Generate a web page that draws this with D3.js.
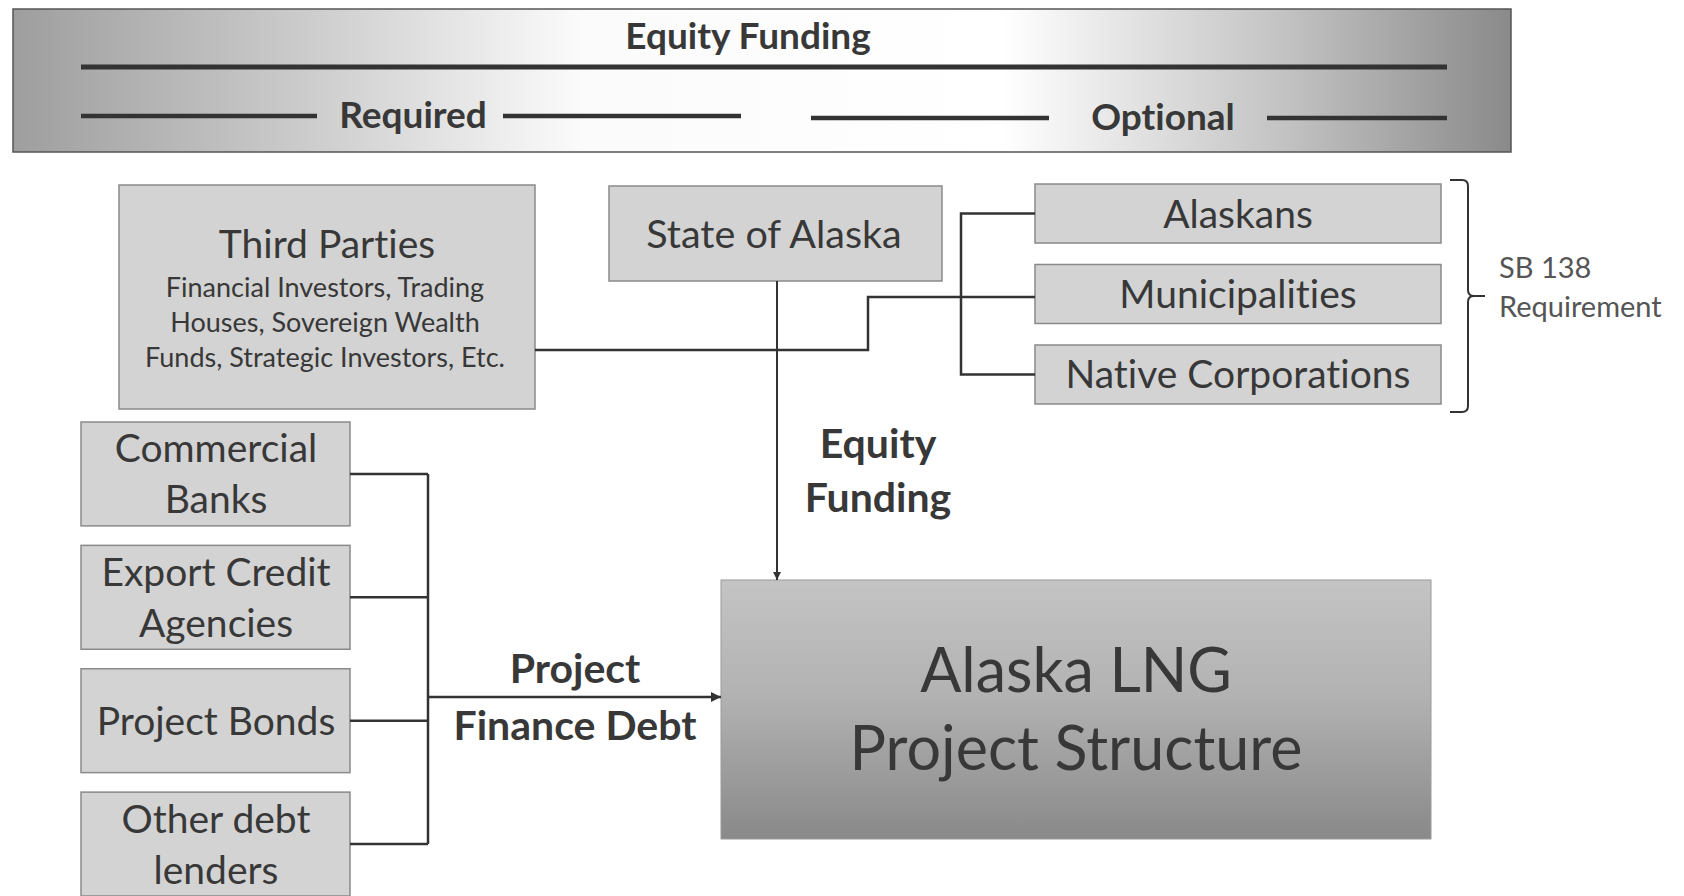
<!DOCTYPE html>
<html>
<head>
<meta charset="utf-8">
<script src="https://cdn.jsdelivr.net/npm/d3@7"></script>
<style>
  body { margin: 0; background: #fff; }
  text { font-family: Lato, "Open Sans", sans-serif; fill: #383838; font-variant-ligatures: none; }
</style>
</head>
<body>
<div id="chart"></div>
<script>
// labels of the diagram
var bannerTitle = "Equity Funding";
var bannerGroups = ["Required", "Optional"];
var thirdPartyTitle = "Third Parties";
var thirdPartyLines = ["Financial Investors, Trading", "Houses, Sovereign Wealth", "Funds, Strategic Investors, Etc."];
var stateName = "State of Alaska";
var optionalInvestors = ["Alaskans", "Municipalities", "Native Corporations"];
var requirementNote = ["SB 138", "Requirement"];
var debtSources = [["Commercial", "Banks"], ["Export Credit", "Agencies"], ["Project Bonds"], ["Other debt", "lenders"]];
var equityLabel = ["Equity", "Funding"];
var debtLabel = ["Project", "Finance Debt"];
var projectTitle = ["Alaska LNG", "Project Structure"];

var width = 1684,
    height = 896;

var svg = d3.select('#chart')
  .append('svg')
  .attr('width', width)
  .attr('height', height);

var defs = svg.append('defs');

var bannerGrad = defs.append('linearGradient').attr('id', 'bannerGrad');
[[0, '#9e9e9e'], [0.2, '#cdcdcd'], [0.38, '#fbfbfb'], [0.66, '#ffffff'], [0.85, '#c2c2c2'], [1, '#8a8a8a']]
  .forEach(function (s) { bannerGrad.append('stop').attr('offset', s[0]).attr('stop-color', s[1]); });

var projGrad = defs.append('linearGradient').attr('id', 'projGrad')
  .attr('x1', 0).attr('y1', 0).attr('x2', 0).attr('y2', 1);
[[0, '#c4c4c4'], [0.45, '#b2b2b2'], [1, '#898989']]
  .forEach(function (s) { projGrad.append('stop').attr('offset', s[0]).attr('stop-color', s[1]); });

defs.append('marker')
  .attr('id', 'arrow')
  .attr('viewBox', '0 0 10 10')
  .attr('refX', 10).attr('refY', 5)
  .attr('markerWidth', 4).attr('markerHeight', 4)
  .attr('markerUnits', 'strokeWidth')
  .attr('orient', 'auto')
  .append('path')
  .attr('d', 'M0,0L10,5L0,10Z')
  .attr('fill', '#333');

// draw centred lines of text, first baseline at y
function addLines(g, lines, x, y, lineHeight, size, weight) {
  g.selectAll(null).data(lines)
    .enter().append('text')
    .attr('x', x)
    .attr('y', function (d, i) { return y + i * lineHeight; })
    .attr('text-anchor', 'middle')
    .attr('font-size', size)
    .attr('font-weight', weight || 400)
    .text(function (d) { return d; });
}

// ---- top banner
svg.append('rect')
  .attr('x', 13).attr('y', 9).attr('width', 1498).attr('height', 143)
  .attr('fill', 'url(#bannerGrad)')
  .attr('stroke', '#555').attr('stroke-width', 1.5);

addLines(svg, [bannerTitle], 748, 49, 0, 37, 700);

svg.append('line')
  .attr('x1', 81).attr('x2', 1447).attr('y1', 67).attr('y2', 67)
  .attr('stroke', '#333').attr('stroke-width', 5);

var groupX = d3.scalePoint().domain(bannerGroups).range([413, 1163]);
var groupSegs = { Required: [[81, 317], [503, 741]], Optional: [[811, 1049], [1267, 1447]] };

bannerGroups.forEach(function (grp) {
  var y = grp === 'Required' ? 116 : 118;
  addLines(svg, [grp], groupX(grp), y + 12, 0, 37, 700);
  svg.selectAll(null).data(groupSegs[grp])
    .enter().append('line')
    .attr('x1', function (d) { return d[0]; })
    .attr('x2', function (d) { return d[1]; })
    .attr('y1', y).attr('y2', y)
    .attr('stroke', '#333').attr('stroke-width', 4.5);
});

// ---- equity sources
var boxFill = '#d3d3d3', boxStroke = '#8a8a8a';

svg.append('rect')
  .attr('x', 119).attr('y', 185).attr('width', 416).attr('height', 224)
  .attr('fill', boxFill).attr('stroke', boxStroke).attr('stroke-width', 1.5);
addLines(svg, [thirdPartyTitle], 327, 258, 0, 39);
addLines(svg, thirdPartyLines, 325, 297, 35, 27);

svg.append('rect')
  .attr('x', 609).attr('y', 186).attr('width', 333).attr('height', 95)
  .attr('fill', boxFill).attr('stroke', boxStroke).attr('stroke-width', 1.5);
addLines(svg, [stateName], 774, 248, 0, 39.5);

var optY = d3.scaleBand()
  .domain(optionalInvestors)
  .range([184, 404])
  .paddingInner(0.267);

var optMid = function (d) { return optY(d) + optY.bandwidth() / 2; };

var opt = svg.selectAll('g.opt').data(optionalInvestors)
  .enter().append('g').attr('class', 'opt');
opt.append('rect')
  .attr('x', 1035).attr('width', 406)
  .attr('y', function (d) { return optY(d); })
  .attr('height', optY.bandwidth())
  .attr('fill', boxFill).attr('stroke', boxStroke).attr('stroke-width', 1.5);
opt.append('text')
  .attr('x', 1238)
  .attr('y', function (d) { return optMid(d) + 14; })
  .attr('text-anchor', 'middle')
  .attr('font-size', 39)
  .text(function (d) { return d; });

// connectors on the equity side
var link = function (d, w) {
  svg.append('path').attr('d', d)
    .attr('fill', 'none').attr('stroke', '#333').attr('stroke-width', w || 2.5);
};
link('M535,350H868V' + (optMid(optionalInvestors[1]) + 3) + 'H1035');
link('M1035,' + optMid(optionalInvestors[0]) + 'H961V' + optMid(optionalInvestors[2]) + 'H1035');

// brace for the SB 138 note
var bTop = optY(optionalInvestors[0]) - 4,
    bBot = optY(optionalInvestors[2]) + optY.bandwidth() + 8,
    bMid = (bTop + bBot) / 2;
link('M1450,' + bTop + 'H1462Q1468,' + bTop + ' 1468,' + (bTop + 6) +
     'V' + (bMid - 6) + 'Q1468,' + bMid + ' 1474,' + bMid + 'H1485M1474,' + bMid +
     'Q1468,' + bMid + ' 1468,' + (bMid + 6) + 'V' + (bBot - 6) +
     'Q1468,' + bBot + ' 1462,' + bBot + 'H1450', 2);

svg.selectAll(null).data(requirementNote)
  .enter().append('text')
  .attr('x', 1499)
  .attr('y', function (d, i) { return 278 + i * 39; })
  .attr('font-size', 29)
  .style('fill', '#555')
  .text(function (d) { return d; });

// ---- debt sources
var debtY = d3.scaleBand()
  .domain(d3.range(debtSources.length))
  .range([422, 896])
  .paddingInner(0.158);

var debtMid = function (i) { return debtY(i) + debtY.bandwidth() / 2; };

var debt = svg.selectAll('g.debt').data(debtSources)
  .enter().append('g').attr('class', 'debt');
debt.append('rect')
  .attr('x', 81).attr('width', 269)
  .attr('y', function (d, i) { return debtY(i); })
  .attr('height', debtY.bandwidth())
  .attr('fill', boxFill).attr('stroke', boxStroke).attr('stroke-width', 1.5);
debt.each(function (d, i) {
  var first = debtMid(i) + 14 - (d.length - 1) * 25.5;
  addLines(d3.select(this), d, 216, first, 51, 39);
});

debtSources.forEach(function (d, i) {
  link('M350,' + debtMid(i) + 'H428');
});
link('M428,' + debtMid(0) + 'V' + debtMid(debtSources.length - 1));

// ---- project box
svg.append('rect')
  .attr('x', 721).attr('y', 580).attr('width', 710).attr('height', 259)
  .attr('fill', 'url(#projGrad)').attr('stroke', '#9a9a9a').attr('stroke-width', 1);
addLines(svg, projectTitle, 1076, 692, 78, 61);

// flows into the project
svg.append('path').attr('d', 'M777,281V580')
  .attr('stroke', '#333').attr('stroke-width', 2).attr('marker-end', 'url(#arrow)');
svg.append('path').attr('d', 'M428,697H721')
  .attr('stroke', '#333').attr('stroke-width', 2.5).attr('marker-end', 'url(#arrow)');

addLines(svg, equityLabel, 878, 458, 54, 41, 700);
addLines(svg, debtLabel, 575, 683, 57, 41, 700);
</script>
</body>
</html>
